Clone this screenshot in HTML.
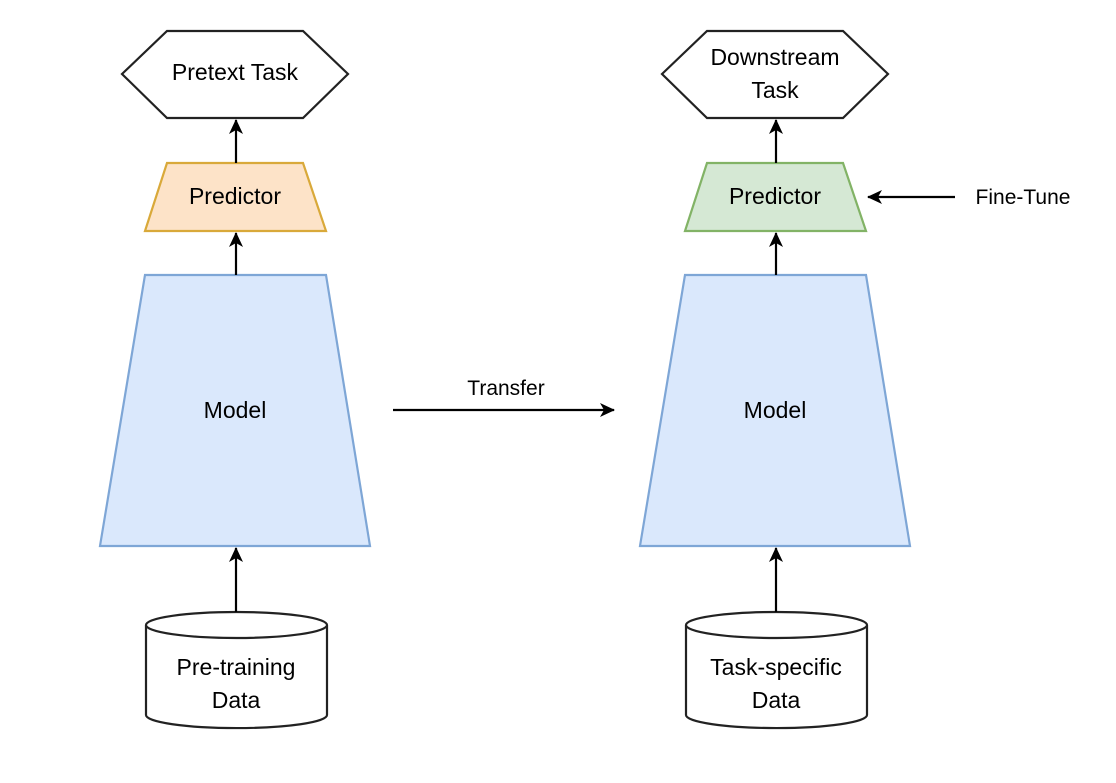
<!DOCTYPE html>
<html><head><style>body{margin:0;background:#fff}</style></head><body>
<svg width="1116" height="778" xmlns="http://www.w3.org/2000/svg" font-family="Liberation Sans, sans-serif" font-size="23" fill="#000">
<defs>
<marker id="b" markerWidth="16" markerHeight="16" refX="14" refY="8" orient="auto" markerUnits="userSpaceOnUse"><path d="M0,1 L15,8 L0,15 L4,8 z" fill="#000"/></marker></defs>
<g stroke-width="2.2">
<polygon points="122,74 167,31 303,31 348,74 303,118 167,118" fill="#fff" stroke="#222"/>
<polygon points="167,163 303,163 326,231 145,231" fill="#fde3c8" stroke="#d9a93a"/>
<polygon points="145,275 326,275 370,546 100,546" fill="#dae8fc" stroke="#7ea6d6"/>
<path d="M146,625 v90 a90,13 0 0 0 181,0 v-90" fill="#fff" stroke="#222"/>
<ellipse cx="236.5" cy="625" rx="90.5" ry="13" fill="#fff" stroke="#222"/>
<g stroke="#000"><line x1="236" y1="612" x2="236" y2="548" marker-end="url(#b)"/>
<line x1="236" y1="275" x2="236" y2="233" marker-end="url(#b)"/>
<line x1="236" y1="163" x2="236" y2="120" marker-end="url(#b)"/>
<line x1="393" y1="410" x2="614" y2="410" marker-end="url(#b)"/>
<line x1="955" y1="197" x2="868" y2="197" marker-end="url(#b)"/></g>
<polygon points="662,74 707,31 843,31 888,74 843,118 707,118" fill="#fff" stroke="#222"/>
<polygon points="707,163 843,163 866,231 685,231" fill="#d5e8d4" stroke="#82b366"/>
<polygon points="685,275 866,275 910,546 640,546" fill="#dae8fc" stroke="#7ea6d6"/>
<path d="M686,625 v90 a90,13 0 0 0 181,0 v-90" fill="#fff" stroke="#222"/>
<ellipse cx="776.5" cy="625" rx="90.5" ry="13" fill="#fff" stroke="#222"/>
<g stroke="#000"><line x1="776" y1="612" x2="776" y2="548" marker-end="url(#b)"/>
<line x1="776" y1="275" x2="776" y2="233" marker-end="url(#b)"/>
<line x1="776" y1="163" x2="776" y2="120" marker-end="url(#b)"/></g>
</g>
<g text-anchor="middle">
<text x="235" y="80">Pretext Task</text>
<text x="235" y="204">Predictor</text>
<text x="235" y="418">Model</text>
<text x="236" y="675">Pre-training</text>
<text x="236" y="708">Data</text>
<text x="775" y="65">Downstream</text>
<text x="775" y="98">Task</text>
<text x="775" y="204">Predictor</text>
<text x="775" y="418">Model</text>
<text x="776" y="675">Task-specific</text>
<text x="776" y="708">Data</text>
<text x="506" y="395" font-size="21">Transfer</text>
<text x="1023" y="204" font-size="21">Fine-Tune</text>
</g>
</svg>
</body></html>
